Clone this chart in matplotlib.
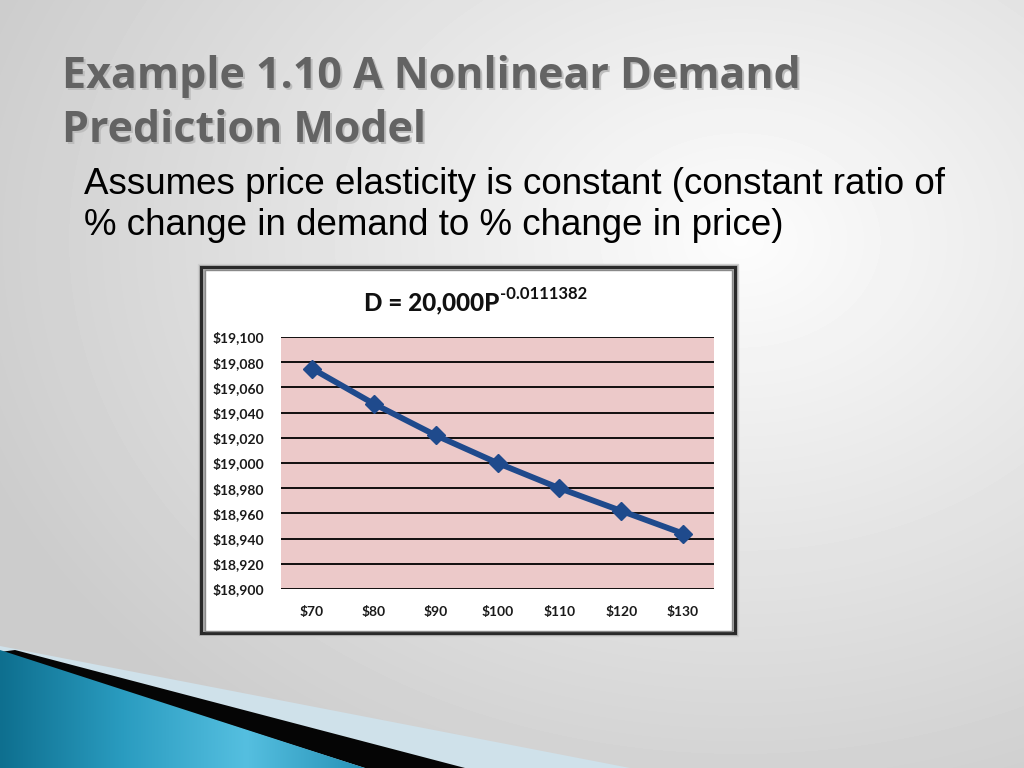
import numpy as np
import matplotlib.pyplot as plt
from matplotlib.patches import Polygon, Rectangle
from matplotlib.colors import LinearSegmentedColormap

# data
prices = ['$70', '$80', '$90', '$100', '$110', '$120', '$130']
demand = [19075, 19047, 19022, 19000, 18980, 18962, 18944]
y_ticks = [18900, 18920, 18940, 18960, 18980, 19000, 19020, 19040, 19060, 19080, 19100]

title_lines = ['Example 1.10 A Nonlinear Demand', 'Prediction Model']
sub_lines = ['Assumes price elasticity is constant (constant ratio of',
             '% change in demand to % change in price)']

W, H = 1024, 768
fig = plt.figure(figsize=(W / 100, H / 100), dpi=100)

# slide background in pixel coordinates
bg = fig.add_axes([0, 0, 1, 1])
bg.set_xlim(0, W)
bg.set_ylim(H, 0)
bg.axis('off')

yy, xx = np.mgrid[0:H, 0:W]
r = np.sqrt(((xx - 740) / 850.0) ** 2 + ((yy - 240) / 650.0) ** 2)
shade = np.clip(0.99 - 0.2 * r, 0.8, 1.0)
bg.imshow(shade, cmap='gray', vmin=0, vmax=1, extent=(0, W, H, 0), aspect='auto', zorder=0)

# bottom-left decoration
bg.add_patch(Polygon([(0, 646), (630, 768), (0, 768)], closed=True, color='#cfe1ea', lw=0, zorder=1))
bg.add_patch(Polygon([(15, 650), (465, 768), (365, 768), (0, 652)], closed=True, color='#050505', lw=0, zorder=2))
teal = Polygon([(0, 650), (365, 768), (0, 768)], closed=True, lw=0, zorder=3, facecolor='none')
bg.add_patch(teal)
tcmap = LinearSegmentedColormap.from_list('teal', ['#0e6f8f', '#2a9cc0', '#55bfe0', '#2590b5'])
grad = bg.imshow(np.tile(np.linspace(0, 1, 256), (10, 1)), cmap=tcmap, extent=(0, 370, 768, 640),
                 aspect='auto', zorder=3)
grad.set_clip_path(teal)

# slide text
title_font = dict(family='Open Sans', weight='bold', color='#636363', fontsize=31)
for i, line in enumerate(title_lines):
    bg.text(63.5, 89.5 + i * 54, line, va='baseline', ha='left', color='#bdbdbd', zorder=5,
            **{k: v for k, v in title_font.items() if k != 'color'})
    bg.text(62, 88 + i * 54, line, va='baseline', ha='left', zorder=5, **title_font)
bg.text(84, 194, sub_lines[0], va='baseline', ha='left', family='Liberation Sans', fontsize=26.5,
        color='black', zorder=5)
bg.text(84, 235, sub_lines[1], va='baseline', ha='left', family='Liberation Sans', fontsize=26.5,
        color='black', zorder=5)

# chart frame
bg.add_patch(Rectangle((198, 264), 540, 372, facecolor='#a8a8a8', edgecolor='#cfcfcf', lw=1, zorder=4))
bg.add_patch(Rectangle((201, 267), 534, 366, facecolor='none', edgecolor='#2a2a2a', lw=2.2, zorder=4))
bg.add_patch(Rectangle((205, 270), 527, 361, facecolor='white', edgecolor='#8a8a8a', lw=1, zorder=4))

main = bg.text(364, 310, 'D = 20,000P', ha='left', va='baseline', family='Lato', weight='black',
               fontsize=17.5, color='#111111', zorder=5)
fig.canvas.draw()
ext = main.get_window_extent()
sup_x = bg.transData.inverted().transform((ext.x1, ext.y1))[0]
bg.text(sup_x + 1, 299, '-0.0111382', ha='left', va='baseline', family='Lato', weight='bold',
        fontsize=12, color='#111111', zorder=5)

# plot area
ax = fig.add_axes([281 / W, 1 - 589 / H, (714 - 281) / W, (589 - 337) / H])
ax.set_facecolor('#ecc9c9')
x = np.arange(len(prices))
ax.plot(x, demand, color='#1f4a8c', lw=4.2, marker='D', ms=9.5, mfc='#1f4a8c', mec='#1f4a8c', zorder=3)
ax.set_xlim(-0.5, len(prices) - 0.5)
ax.set_ylim(18900, 19100)
ax.set_yticks(y_ticks)
ax.set_yticklabels(['${:,}'.format(v) for v in y_ticks])
ax.set_xticks(x)
ax.set_xticklabels(prices)
ax.grid(axis='y', color='black', lw=1.3)
ax.set_axisbelow(True)
for s in ax.spines.values():
    s.set_visible(False)
ax.tick_params(length=0, labelsize=10, colors='#1a1a1a', pad=12)
ax.tick_params(axis='x', pad=12)
for lab in ax.get_xticklabels() + ax.get_yticklabels():
    lab.set_family('Lato')
    lab.set_weight('bold')

fig.savefig('out.png', dpi=100)
